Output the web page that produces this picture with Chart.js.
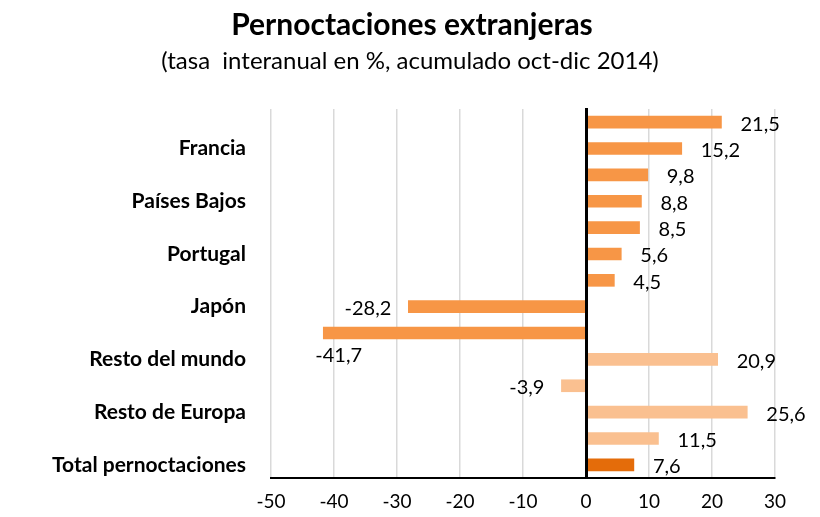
<!DOCTYPE html>
<html>
<head>
<meta charset="utf-8">
<script src="https://cdn.jsdelivr.net/npm/chart.js@4/dist/chart.umd.min.js"></script>
<style>
  html, body { margin: 0; padding: 0; background: #fff; }
  #wrap { width: 820px; height: 517px; }
</style>
</head>
<body>
<div id="wrap"><canvas id="c" width="820" height="517"></canvas></div>
<script>
// categories (only every other one is labelled in the original)
const categories = ['', 'Francia', '', 'Países Bajos', '', 'Portugal', '',
  'Japón', '', 'Resto del mundo', '', 'Resto de Europa', '', 'Total pernoctaciones'];
// tasa interanual en %
const values = [21.5, 15.2, 9.8, 8.8, 8.5, 5.6, 4.5, -28.2, -41.7, 20.9, -3.9, 25.6, 11.5, 7.6];
const xTicks = [-50, -40, -30, -20, -10, 0, 10, 20, 30];
const titleText = 'Pernoctaciones extranjeras';
const subtitleText = '(tasa  interanual en %, acumulado oct-dic 2014)';

const ORANGE = '#F79646', LIGHT = '#FAC090', DARK = '#E46C0A';
const barColors = values.map((v, i) => i === 13 ? DARK : (i >= 9 ? LIGHT : ORANGE));

const FONT = 'Lato, "Open Sans", sans-serif';

// titles centred on the whole canvas (the built-in one follows the layout padding)
const titlePlugin = {
  id: 'titles',
  afterDraw(chart) {
    const ctx = chart.ctx;
    const cx = chart.width / 2;
    ctx.save();
    ctx.fillStyle = '#000';
    ctx.textAlign = 'center';
    ctx.textBaseline = 'middle';
    ctx.font = 'bold 30px ' + FONT;
    ctx.fillText(titleText, cx + 2, 25);
    ctx.font = '24px ' + FONT;
    ctx.fillText(subtitleText, cx, 61);
    ctx.restore();
  }
};

// value labels drawn next to the bar ends, plus the black zero line on top
const labelsPlugin = {
  id: 'barLabels',
  afterDatasetsDraw(chart) {
    const ctx = chart.ctx;
    const xs = chart.scales.x;
    const area = chart.chartArea;
    ctx.save();
    ctx.strokeStyle = '#000';
    ctx.lineWidth = 3;
    const x0 = Math.round(xs.getPixelForValue(0)) + 0.5;
    ctx.beginPath();
    ctx.moveTo(x0, area.top - 1);
    ctx.lineTo(x0, area.bottom);
    ctx.stroke();

    ctx.font = '20px ' + FONT;
    ctx.fillStyle = '#000';
    ctx.textBaseline = 'middle';
    const meta = chart.getDatasetMeta(0);
    meta.data.forEach((bar, i) => {
      const v = values[i];
      const txt = v.toFixed(1).replace('.', ',');
      let x, y = bar.y + 2;
      if (i === 8) {           // moved below the bar in the original
        ctx.textAlign = 'left';
        x = bar.x - 8; y = bar.y + 23;
      } else if (v >= 0) {
        ctx.textAlign = 'left';
        x = bar.x + 19;
      } else {
        ctx.textAlign = 'right';
        x = bar.x - 17;
      }
      ctx.fillText(txt, x, y);
    });
    ctx.restore();
  }
};

new Chart(document.getElementById('c'), {
  type: 'bar',
  data: {
    labels: categories,
    datasets: [{
      data: values,
      backgroundColor: barColors,
      borderWidth: 0,
      barThickness: 12
    }]
  },
  options: {
    indexAxis: 'y',
    responsive: false,
    animation: false,
    layout: { padding: { left: 0, right: 45, top: 109, bottom: 0 } },
    plugins: {
      legend: { display: false },
      tooltip: { enabled: false },
      title: { display: false },
      subtitle: { display: false }
    },
    scales: {
      x: {
        min: -50, max: 30,
        afterBuildTicks: (s) => { s.ticks = xTicks.map(v => ({ value: v })); },
        afterFit: (s) => { s.height = 39; },
        grid: {
          color: '#D9D9D9',
          lineWidth: 1.5,
          drawTicks: false
        },
        border: { display: true, color: '#000', width: 2 },
        ticks: {
          color: '#000',
          padding: 12,
          font: { family: FONT, size: 19 }
        }
      },
      y: {
        afterFit: (s) => { s.width = 271; },
        grid: { display: false, drawTicks: false },
        border: { display: false },
        ticks: {
          autoSkip: false,
          color: '#000',
          padding: 25,
          font: { family: FONT, size: 21, weight: 'bold' }
        }
      }
    }
  },
  plugins: [labelsPlugin, titlePlugin]
});
</script>
</body>
</html>
